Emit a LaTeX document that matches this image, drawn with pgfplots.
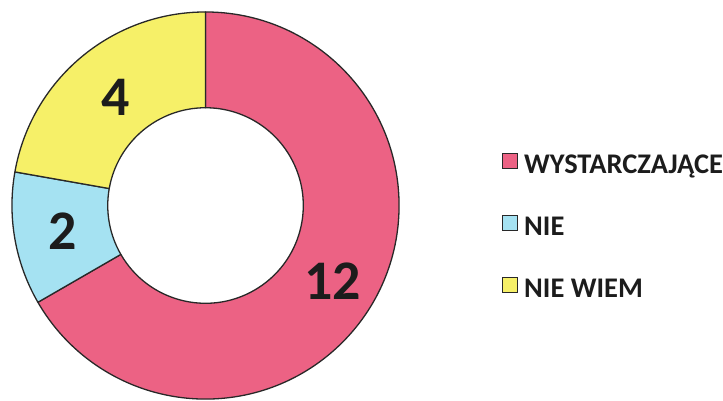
\documentclass[border=0pt]{standalone}
\usepackage{pgfplots}
\pgfplotsset{compat=1.18}
\usepackage{pgfplotstable}
\usepackage{fontspec}
\setmainfont{Carlito}
\definecolor{cpink}{RGB}{236,98,132}
\definecolor{cblue}{RGB}{165,226,242}
\definecolor{cyellow}{RGB}{246,240,104}
\definecolor{edge}{RGB}{40,40,40}
\definecolor{txt}{RGB}{28,28,28}

\pgfplotstableread{
label value
W 12
N 2
NW 4
}\datatable

\pgfplotstablegetelem{0}{value}\of\datatable \let\va\pgfplotsretval
\pgfplotstablegetelem{1}{value}\of\datatable \let\vb\pgfplotsretval
\pgfplotstablegetelem{2}{value}\of\datatable \let\vc\pgfplotsretval
\pgfmathsetmacro{\tot}{\va+\vb+\vc}
\pgfmathsetmacro{\sa}{90}
\pgfmathsetmacro{\ea}{\sa-360*\va/\tot}
\pgfmathsetmacro{\eb}{\ea-360*\vb/\tot}
\pgfmathsetmacro{\ec}{\eb-360*\vc/\tot}
\pgfmathsetmacro{\ma}{(\sa+\ea)/2}
\pgfmathsetmacro{\mb}{(\ea+\eb)/2}
\pgfmathsetmacro{\mc}{(\eb+\ec)/2}

\def\cx{206}
\def\cy{195}
\def\ro{194}
\def\ri{98}
\def\rmid{147}

\newcommand{\donutwedge}[3]{%
  \filldraw[fill=#1, draw=edge, line width=1.3pt, line join=round]
    (axis cs:{\cx+\ro*cos(#2)},{\cy+\ro*sin(#2)})
    arc[start angle=#2, end angle=#3, radius=\ro pt]
    -- (axis cs:{\cx+\ri*cos(#3)},{\cy+\ri*sin(#3)})
    arc[start angle=#3, end angle=#2, radius=\ri pt]
    -- cycle;}

\begin{document}
\begin{tikzpicture}
\begin{axis}[
  x=1pt, y=1pt,
  xmin=0, xmax=723, ymin=0, ymax=401,
  hide axis, clip=false,
  legend image code/.code={\draw[#1, draw=edge, line width=1.2pt] (0pt,-2pt) rectangle (15pt,13pt);},
  legend style={draw=none, fill=none, inner sep=0pt,
    at={(axis cs:503,248)}, anchor=north west,
    font=\fontsize{28.5}{28.5}\selectfont\bfseries, text=txt,
    row sep=36.5pt, column sep=6pt,
    nodes={inner sep=0pt, text height=19pt, text depth=5pt}},
  legend cell align=left,
]
\addlegendimage{fill=cpink}
\addlegendentry{WYSTARCZAJĄCE}
\addlegendimage{fill=cblue}
\addlegendentry{NIE}
\addlegendimage{fill=cyellow}
\addlegendentry{NIE WIEM}

\donutwedge{cpink}{\sa}{\ea}
\donutwedge{cblue}{\ea}{\eb}
\donutwedge{cyellow}{\eb}{\ec}

\node[text=txt, font=\fontsize{56}{56}\selectfont\bfseries] at (axis cs:{\cx+\rmid*cos(\ma)},{\cy+\rmid*sin(\ma)-2}) {\va};
\node[text=txt, font=\fontsize{56}{56}\selectfont\bfseries] at (axis cs:{\cx+\rmid*cos(\mb)+2},{\cy+\rmid*sin(\mb)}) {\vb};
\node[text=txt, font=\fontsize{56}{56}\selectfont\bfseries] at (axis cs:{\cx+\rmid*cos(\mc)+4},{\cy+\rmid*sin(\mc)-4}) {\vc};
\end{axis}
\path (0,0) rectangle (723pt,401pt);
\end{tikzpicture}
\end{document}
